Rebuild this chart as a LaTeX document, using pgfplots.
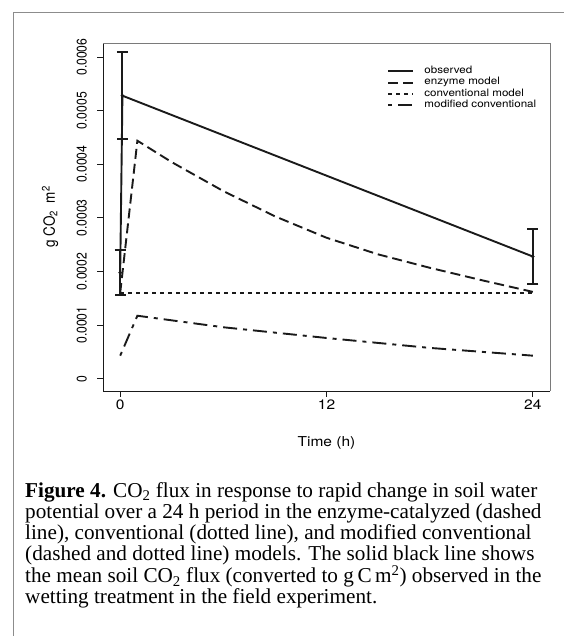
\documentclass[border=0pt]{standalone}
\usepackage{fontspec}
\setmainfont{Liberation Serif}
\newfontfamily\hel{TeX Gyre Heros}
\usepackage{graphicx}
\usepackage{pgfplots}
\pgfplotsset{compat=1.18}
\definecolor{ink}{HTML}{1A1A1A}
\definecolor{framegray}{HTML}{8C8C8C}
\definecolor{boxgray}{HTML}{7A7A7A}
\newcommand\hs[1]{\scalebox{1}[0.88]{#1}}
\newcommand\vs[1]{\scalebox{0.87}[1]{#1}}

\begin{document}
\begin{tikzpicture}
\useasboundingbox (0,0) rectangle (564pt,636pt);
\draw[framegray, line width=1.6pt] (13.5pt,0pt) -- (13.5pt,623.5pt) -- (564pt,623.5pt);
\begin{axis}[
  at={(103pt,245pt)}, anchor=south west,
  width=447pt, height=348pt, scale only axis,
  xmin=-1, xmax=25, ymin=-0.0000229, ymax=0.0006263,
  axis lines*=left,
  axis line style={ink, line width=0.9pt},
  tick align=outside, major tick length=6pt,
  tick style={ink, line width=0.9pt},
  xtick={0,12,24}, xticklabels={\hs{0},\hs{12},\hs{24}},
  ytick={0,0.0001,0.0002,0.0003,0.0004,0.0005,0.0006},
  yticklabels={\vs{0},\vs{0.0001},\vs{0.0002},\vs{0.0003},\vs{0.0004},\vs{0.0005},\vs{0.0006}},
  scaled y ticks=false,
  /pgf/number format/assume math mode=true,
  xticklabel shift=2.5pt,
  yticklabel shift=10pt,
  xticklabel style={font=\hel\fontsize{15.5}{15.5}\selectfont, anchor=north, inner sep=0pt},
  yticklabel style={font=\hel\fontsize{14}{14}\selectfont, rotate=90, anchor=south, inner sep=0pt},
  xlabel={\hs{Time (h)}},
  xlabel style={font=\hel\fontsize{15.5}{15.5}\selectfont, at={(axis description cs:0.5,-0.1307)}, anchor=north, inner sep=0pt},
  ylabel={\vs{g CO\textsubscript{2}\ \ m\textsuperscript{2}}},
  ylabel style={font=\hel\fontsize{15.5}{15.5}\selectfont, at={(axis description cs:-0.1186,0.5)}, anchor=center, inner sep=0pt},
  legend cell align=left,
  legend style={at={(axis cs:15.55,0.000584)}, anchor=north west, draw=none, fill=none,
    inner sep=0pt, outer sep=0pt, column sep=10pt, row sep=0pt,
    font=\hel\fontsize{11.6}{11.6}\selectfont,
    nodes={inner sep=0pt, text height=8pt, text depth=3.3pt}},
  legend image code/.code={\draw[#1] (0pt,0pt) -- (25pt,0pt);},
  clip=false,
]
% observed means with error bars
\addplot[ink, forget plot, only marks, mark=*, mark size=1.6pt,
  error bars/.cd, y dir=both, y explicit,
  error bar style={ink, line width=2pt},
  error mark options={ink, line width=2pt, mark size=5.5pt, rotate=90}]
  coordinates {
  (0,0.000198) +- (0,0.000042)
  (0.13,0.000528) +- (0,0.000081)
  (24,0.000228) +- (0,0.0000505)
};
\addplot[ink, line width=1.9pt] coordinates {
  (0,0.000198) (0.13,0.000528) (24,0.000228)
};
\addlegendentry{\hs{observed}}
\addplot[ink, line width=1.9pt, dash pattern=on 10pt off 5pt] coordinates {
  (0,0.00016) (1,0.000444) (3,0.000404) (6,0.00035) (9,0.000303)
  (12,0.000263) (15,0.000232) (18,0.000207) (21,0.000184) (24,0.000162)
};
\addlegendentry{\hs{enzyme model}}
\addplot[ink, line width=1.9pt, dash pattern=on 4pt off 4pt] coordinates {
  (0,0.00016) (24,0.00016)
};
\addlegendentry{\hs{conventional model}}
\addplot[ink, line width=1.9pt, dash pattern=on 4pt off 6pt on 14pt off 6pt] coordinates {
  (0,0.000043) (1,0.0001175) (6,0.000096) (12,0.000076) (18,0.0000575) (24,0.000043)
};
\addlegendentry{\hs{modified conventional}}
\draw[boxgray, line width=0.9pt] (rel axis cs:0,1) -- (rel axis cs:1,1) -- (rel axis cs:1,0);
\end{axis}
\node[anchor=north west, align=left, inner sep=0pt, font=\fontsize{21.2}{21}\selectfont] at (25pt,154pt) {%
\textbf{Figure 4.} CO\textsubscript{2} flux in response to rapid change in soil water\\
potential over a 24 h period in the enzyme-catalyzed (dashed\\
line), conventional (dotted line), and modified conventional\\
(dashed and dotted line) models. The solid black line shows\\
the mean soil CO\textsubscript{2} flux (converted to g\,C\,m\textsuperscript{2}) observed in the\\
wetting treatment in the field experiment.};
\end{tikzpicture}
\end{document}
